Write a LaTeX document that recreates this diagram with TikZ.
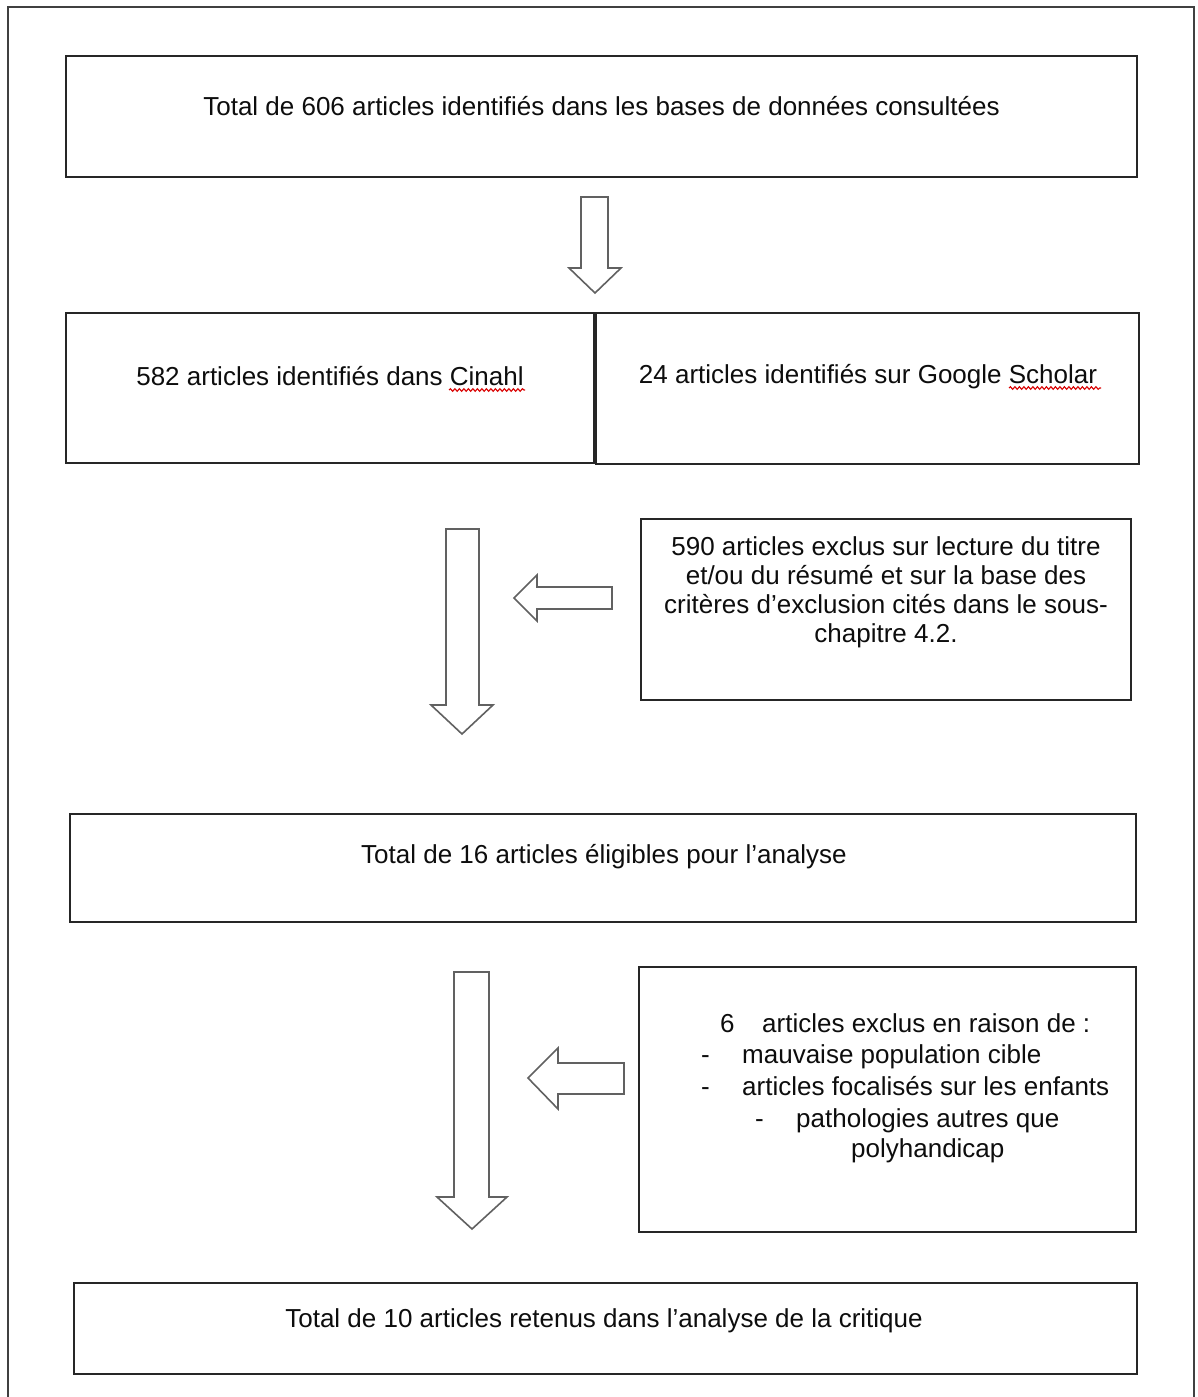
\documentclass[tikz,border=0pt]{standalone}
\usepackage{fontspec}
\setmainfont{Liberation Sans}
\usetikzlibrary{decorations.pathmorphing}
\begin{document}
\begin{tikzpicture}[x=1pt,y=-1pt,
  box/.style={draw=black!85, line width=1.8pt, inner sep=0pt, outer sep=0pt, rectangle},
  blockarrow/.style={draw=black!62, line width=1.6pt, line join=miter, fill=white},
  txt/.style={font=\fontsize{26}{29}\selectfont, inner sep=0pt, anchor=base, text=black!95},
  txtw/.style={txt, anchor=base west},
  frame/.style={draw=black!75, line width=2pt},
  spell/.style={draw=red!85!black, line width=1.1pt, decorate, decoration={snake, amplitude=1.3pt, segment length=4.5pt}}]

\useasboundingbox (0,0) rectangle (1197,1397);
\fill[white] (0,0) rectangle (1197,1397);
\draw[frame] (8,1402) -- (8,7) -- (1194,7) -- (1194,1402);

% boxes
\node[box, minimum width=1071pt, minimum height=121pt] (top) at (601.5,116.5) {};
\node[box, minimum width=528pt, minimum height=150pt] (cin) at (330,388) {};
\node[box, minimum width=543pt, minimum height=151pt] (gs) at (867.5,388.5) {};
\node[box, minimum width=490pt, minimum height=181pt] (ex1) at (886,609.5) {};
\node[box, minimum width=1066pt, minimum height=108pt] (elig) at (603,868) {};
\node[box, minimum width=497pt, minimum height=265pt] (ex2) at (887.5,1099.5) {};
\node[box, minimum width=1063pt, minimum height=91pt] (final) at (605.5,1328.5) {};

% texts
\node[txt] (ttop) at (601.5,115) {Total de 606 articles identifiés dans les bases de données consultées};
\node[txt] (tcin) at (330,385) {582 articles identifiés dans Cinahl};
\node[txt] (tgs) at (868,383) {24 articles identifiés sur Google Scholar};
\draw[spell] (449,390) -- (525,390);
\draw[spell] (1009,388) -- (1101,388);

\node[txt] (tex1a) at (886,555) {590 articles exclus sur lecture du titre};
\node[txt] (tex1b) at (886,584) {et/ou du résumé et sur la base des};
\node[txt] (tex1c) at (886,613) {critères d’exclusion cités dans le sous-};
\node[txt] (tex1d) at (886,642) {chapitre 4.2.};

\node[txt] (telig) at (604,863) {Total de 16 articles éligibles pour l’analyse};

\node[txtw] (tex2n) at (720,1032) {6};
\node[txtw] (tex2a) at (762,1032) {articles exclus en raison de :};
\node[txtw] (tex2bd) at (701,1063) {-};
\node[txtw] (tex2b) at (742,1063) {mauvaise population cible};
\node[txtw] (tex2cd) at (701,1095) {-};
\node[txtw] (tex2c) at (742,1095) {articles focalisés sur les enfants};
\node[txtw] (tex2dd) at (755,1127) {-};
\node[txtw] (tex2d) at (796,1127) {pathologies autres que};
\node[txtw] (tex2e) at (851,1157) {polyhandicap};

\node[txt] (tfinal) at (604,1327) {Total de 10 articles retenus dans l’analyse de la critique};

% block arrows
\draw[blockarrow] (581,197) -- (608,197) -- (608,268) -- (621,268) -- (595,293) -- (569,268) -- (581,268) -- cycle;
\draw[blockarrow] (446,529) -- (479,529) -- (479,705) -- (493,705) -- (462,734) -- (431,705) -- (446,705) -- cycle;
\draw[blockarrow] (454,972) -- (489,972) -- (489,1197) -- (507,1197) -- (472,1229) -- (437,1197) -- (454,1197) -- cycle;
\draw[blockarrow] (612,587) -- (537,587) -- (537,575) -- (514,598) -- (537,621) -- (537,609) -- (612,609) -- cycle;
\draw[blockarrow] (624,1063) -- (558,1063) -- (558,1048) -- (528,1078) -- (558,1109) -- (558,1094) -- (624,1094) -- cycle;
\end{tikzpicture}
\end{document}
